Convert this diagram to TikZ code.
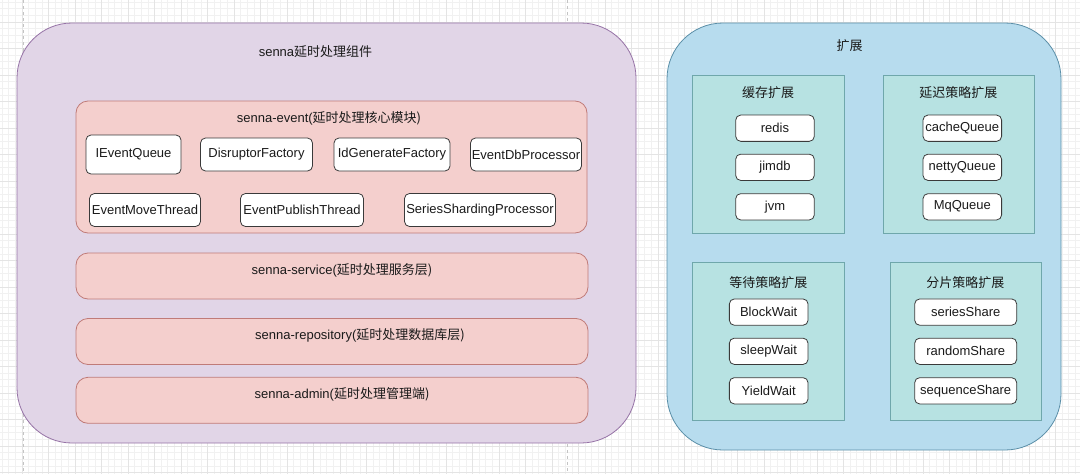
\documentclass[tikz,border=0pt]{standalone}
\usepackage{fontspec}
\setmainfont{Liberation Sans}
\newfontfamily\cjk{Noto Sans CJK SC}
\definecolor{gridminor}{HTML}{F1F1F1}
\definecolor{gridmajor}{HTML}{E4E4E4}
\definecolor{pagedash}{HTML}{C4C4C4}
\definecolor{purpfill}{HTML}{E1D5E7}
\definecolor{purpdraw}{HTML}{9673A6}
\definecolor{redfill}{HTML}{F4CFCD}
\definecolor{reddraw}{HTML}{C07B78}
\definecolor{bluefill}{HTML}{B7DCEE}
\definecolor{bluedraw}{HTML}{5B8FA8}
\definecolor{tealfill}{HTML}{B7E2E2}
\definecolor{tealdraw}{HTML}{6FA7AB}
\definecolor{itemdraw}{HTML}{3A3A3A}
\definecolor{txt}{HTML}{1A1A1A}
\tikzset{
  txtstyle/.style={font=\fontsize{13}{15.6}\selectfont, text=txt},
  outerpurple/.style={draw=purpdraw, fill=purpfill, line width=0.8pt, rounded corners=55pt, inner sep=0pt},
  outerblue/.style={draw=bluedraw, fill=bluefill, line width=0.8pt, rounded corners=56pt, inner sep=0pt},
  layerbox/.style={draw=reddraw, fill=redfill, line width=0.8pt, rounded corners=12pt, inner sep=0pt},
  tealbox/.style={draw=tealdraw, fill=tealfill, line width=0.8pt, inner sep=0pt},
  itembox/.style={draw=itemdraw, fill=white, line width=0.8pt, rounded corners=5pt, inner sep=0pt, txtstyle},
  title/.style={txtstyle, inner sep=0pt},
}
\begin{document}
\begin{tikzpicture}[x=1pt,y=-1pt]
\useasboundingbox (0,0) rectangle (1080,474);
\fill[white] (0,0) rectangle (1080,474);
% background grid
\foreach \i in {-4,...,160} {\draw[gridminor, line width=0.6pt] ({22+\i*6.625},0) -- ({22+\i*6.625},474);}
\foreach \j in {-4,...,70} {\draw[gridminor, line width=0.6pt] (0,{22+\j*6.625}) -- (1080,{22+\j*6.625});}
\foreach \i in {-1,...,40} {\draw[gridmajor, line width=0.7pt] ({22+\i*26.5},0) -- ({22+\i*26.5},474);}
\foreach \j in {-1,...,17} {\draw[gridmajor, line width=0.7pt] (0,{22+\j*26.5}) -- (1080,{22+\j*26.5});}
% page break lines
\coordinate (pa1) at (23,0); \coordinate (pa2) at (23,474);
\coordinate (pb1) at (567,0); \coordinate (pb2) at (567,474);
\draw[pagedash, dashed, line width=0.7pt] (pa1) -- (pa2);
\draw[pagedash, dashed, line width=0.7pt] (pb1) -- (pb2);

% ---------- left: senna component ----------
\node[outerpurple, minimum width=619pt, minimum height=420pt] (senna) at (326.5,233) {};
\node[title] (sennaT) at (315.5,52) {senna\cjk{延时处理组件}};

\node[layerbox, minimum width=511pt, minimum height=132pt] (event) at (331.5,167) {};
\node[title] (eventT) at (329,118) {senna-event(\cjk{延时处理核心模块})};

\node[itembox, minimum width=95pt, minimum height=39pt] (ieq) at (133.5,154.5) {IEventQueue};
\node[itembox, minimum width=112pt, minimum height=33pt] (dis) at (256.5,154.5) {DisruptorFactory};
\node[itembox, minimum width=116pt, minimum height=33pt] (idg) at (392,154.5) {IdGenerateFactory};
\node[itembox, minimum width=111pt, minimum height=33pt] (edb) at (526,154.5) {EventDbProcessor};
\node[itembox, minimum width=111pt, minimum height=33pt] (emt) at (145,210) {EventMoveThread};
\node[itembox, minimum width=123pt, minimum height=33pt] (ept) at (302,210) {EventPublishThread};
\node[itembox, minimum width=151pt, minimum height=33pt] (ssp) at (480,210) {SeriesShardingProcessor};

\node[layerbox, minimum width=512pt, minimum height=46pt] (service) at (332,276) {};
\node[title] (serviceT) at (342,270) {senna-service(\cjk{延时处理服务层})};
\node[layerbox, minimum width=512pt, minimum height=46pt] (repo) at (332,341.5) {};
\node[title] (repoT) at (360,335.5) {senna-repository(\cjk{延时处理数据库层})};
\node[layerbox, minimum width=512pt, minimum height=46pt] (admin) at (332,400.3) {};
\node[title] (adminT) at (342,394.5) {senna-admin(\cjk{延时处理管理端})};

% ---------- right: extensions ----------
\node[outerblue, minimum width=394pt, minimum height=427pt] (ext) at (864,236.5) {};
\node[title] (extT) at (849.5,46) {\cjk{扩展}};

\node[tealbox, minimum width=151.5pt, minimum height=158pt] (cache) at (768.5,154.3) {};
\node[title] (cacheT) at (768,92.3) {\cjk{缓存扩展}};
\node[itembox, minimum width=78.6pt, minimum height=26.3pt] (redis) at (775,128.2) {redis};
\node[itembox, minimum width=78.6pt, minimum height=26.3pt] (jimdb) at (775,167.3) {jimdb};
\node[itembox, minimum width=78.6pt, minimum height=26.3pt] (jvm) at (775,206.8) {jvm};

\node[tealbox, minimum width=151.5pt, minimum height=158pt] (delay) at (959,154.3) {};
\node[title] (delayT) at (958.3,92.3) {\cjk{延迟策略扩展}};
\node[itembox, minimum width=78.6pt, minimum height=26.3pt] (cq) at (962.3,128.2) {cacheQueue};
\node[itembox, minimum width=78.6pt, minimum height=26.3pt] (nq) at (962.3,167.3) {nettyQueue};
\node[itembox, minimum width=78.6pt, minimum height=26.3pt] (mq) at (962.3,206.8) {MqQueue};

\node[tealbox, minimum width=151.5pt, minimum height=157.6pt] (wait) at (768.5,341.5) {};
\node[title] (waitT) at (768.3,282.3) {\cjk{等待策略扩展}};
\node[itembox, minimum width=78.7pt, minimum height=26.3pt] (bw) at (768.7,312.1) {BlockWait};
\node[itembox, minimum width=78.7pt, minimum height=26.3pt] (sw) at (768.7,351.3) {sleepWait};
\node[itembox, minimum width=78.7pt, minimum height=26.3pt] (yw) at (768.7,390.8) {YieldWait};

\node[tealbox, minimum width=151.3pt, minimum height=157.6pt] (shard) at (965.7,341.5) {};
\node[title] (shardT) at (965.3,282.3) {\cjk{分片策略扩展}};
\node[itembox, minimum width=102pt, minimum height=26.3pt] (ss) at (965.7,312.1) {seriesShare};
\node[itembox, minimum width=102pt, minimum height=26.3pt] (rs) at (965.7,351.3) {randomShare};
\node[itembox, minimum width=102pt, minimum height=26.3pt] (qs) at (965.7,390.8) {sequenceShare};
\end{tikzpicture}
\end{document}
